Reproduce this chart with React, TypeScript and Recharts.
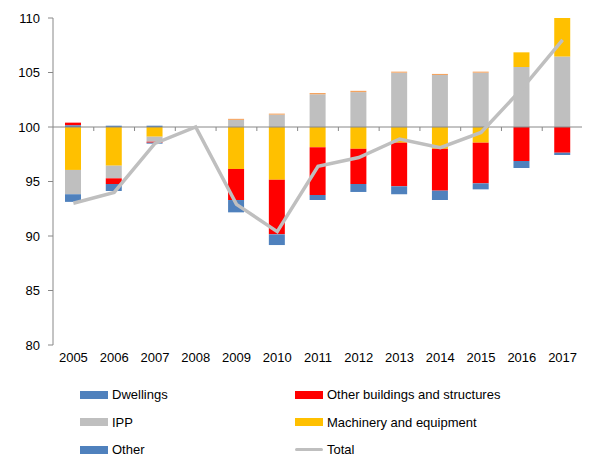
import React from 'react';
import { ComposedChart, Bar, Line, XAxis, YAxis, ReferenceLine, Legend } from 'recharts';

const years = ['2005', '2006', '2007', '2008', '2009', '2010', '2011', '2012', '2013', '2014', '2015', '2016', '2017'];
const dwellings = [-0.7, -0.64, -0.09, 0, -1.13, -0.98, -0.46, -0.73, -0.73, -0.86, -0.55, -0.64, -0.21];
const otherBuildings = [0.25, -0.52, -0.09, 0, -2.85, -5.02, -4.38, -3.23, -4.0, -3.84, -3.73, -3.12, -2.36];
const ipp = [-2.23, -1.16, -0.46, 0, 0.65, 1.13, 3.0, 3.2, 4.98, 4.77, 4.98, 5.5, 6.45];
const machinery = [-3.94, -3.55, -0.89, 0, -3.85, -4.83, -1.86, -2.0, -1.44, -2.0, -1.44, 1.35, 3.55];
const other = [0.15, 0.12, 0.12, 0, 0, 0, 0, 0, 0, 0, 0, 0, 0];
const residual = [0, 0, 0, 0, 0.1, 0.1, 0.12, 0.12, 0.1, 0.1, 0.1, 0, 0];
const total = [93.0, 94.0, 98.5, 100, 92.9, 90.4, 96.4, 97.2, 98.9, 98.1, 99.5, 103.5, 108.0];
const yTicks = [80, 85, 90, 95, 100, 105, 110];
const BASE = 100;

const series: Record<string, number[]> = { dwellings, otherBuildings, ipp, machinery, other, residual };
const posOrder = ['other', 'dwellings', 'ipp', 'machinery', 'otherBuildings', 'residual'];
const negOrder = ['machinery', 'ipp', 'otherBuildings', 'dwellings', 'other', 'residual'];

const data = years.map((year, i) => {
  const row: any = { year, total: total[i] };
  let up = BASE;
  posOrder.forEach((k) => {
    const v = series[k][i];
    if (v > 0) { row['r_' + k] = [up, up + v]; up += v; }
  });
  let down = BASE;
  negOrder.forEach((k) => {
    const v = series[k][i];
    if (v < 0) { row['r_' + k] = [down + v, down]; down += v; }
  });
  Object.keys(series).forEach((k) => { if (!row['r_' + k]) row['r_' + k] = [BASE, BASE]; });
  return row;
});

const COLORS = {
  dwellings: '#4F81BD',
  otherBuildings: '#FF0000',
  ipp: '#BFBFBF',
  machinery: '#FFC000',
  other: '#4F81BD',
  residual: '#F4A460',
  total: '#BFBFBF',
};

const FONT = '"Liberation Sans", Arial, sans-serif';

const legendItems = [
  { label: 'Dwellings', color: COLORS.dwellings, type: 'rect' },
  { label: 'Other buildings and structures', color: COLORS.otherBuildings, type: 'rect' },
  { label: 'IPP', color: COLORS.ipp, type: 'rect' },
  { label: 'Machinery and equipment', color: COLORS.machinery, type: 'rect' },
  { label: 'Other', color: COLORS.other, type: 'rect' },
  { label: 'Total', color: COLORS.total, type: 'line' },
];

const LegendContent = () => (
  <div style={{ display: 'grid', gridTemplateColumns: '215px 260px', gridAutoRows: '27.5px', fontFamily: FONT, fontSize: 13, color: '#000', paddingTop: 6 }}>
    {legendItems.map((it) => (
      <div key={it.label} style={{ display: 'flex', alignItems: 'center', height: 27.5 }}>
        {it.type === 'rect' ? (
          <span style={{ display: 'inline-block', width: 28, height: 8, background: it.color, marginRight: 4 }} />
        ) : (
          <span style={{ display: 'inline-block', width: 28, height: 3, background: it.color, marginRight: 4, borderRadius: 2 }} />
        )}
        <span>{it.label}</span>
      </div>
    ))}
  </div>
);

const AxisAtBase = (props: any) => {
  const { x1, y1, x2 } = props;
  const n = years.length;
  const step = (x2 - x1) / n;
  const ticks = [];
  for (let i = 1; i <= n; i++) {
    const x = x1 + step * i;
    ticks.push(<line key={i} x1={x} y1={y1} x2={x} y2={y1 + 4} stroke="#888" strokeWidth={1} />);
  }
  return (
    <g>
      <line x1={x1} y1={y1} x2={x2} y2={y1} stroke="#888" strokeWidth={1} />
      {ticks}
    </g>
  );
};

export default function App() {
  const bar = (k: string) => (
    <Bar
      key={k}
      dataKey={'r_' + k}
      fill={(COLORS as any)[k]}
      isAnimationActive={false}
      barSize={16}
      legendType="none"
    />
  );
  return (
    <ComposedChart
      width={582}
      height={449}
      data={data}
      margin={{ top: 10, right: 7, bottom: 0, left: 0 }}
      barGap={-16}
    >
      <XAxis
        dataKey="year"
        axisLine={false}
        tickLine={false}
        tickSize={6}
        interval={0}
        height={30}
        tick={{ fontFamily: FONT, fontSize: 13, fill: '#000' }}
      />
      <YAxis
        domain={[80, 110]}
        ticks={yTicks}
        allowDataOverflow
        width={45}
        tickSize={5}
        tickMargin={8}
        axisLine={{ stroke: '#888' }}
        tickLine={{ stroke: '#888' }}
        tick={{ fontFamily: FONT, fontSize: 13, fill: '#000' }}
      />
      {bar('machinery')}
      {bar('ipp')}
      {bar('otherBuildings')}
      {bar('dwellings')}
      {bar('other')}
      {bar('residual')}
      <ReferenceLine y={BASE} shape={AxisAtBase} />
      <Line
        dataKey="total"
        type="linear"
        stroke={COLORS.total}
        strokeWidth={3.5}
        dot={false}
        isAnimationActive={false}
        legendType="none"
      />
      <Legend verticalAlign="bottom" align="left" content={LegendContent} wrapperStyle={{ left: 72, width: 480, height: 82 }} />
    </ComposedChart>
  );
}
